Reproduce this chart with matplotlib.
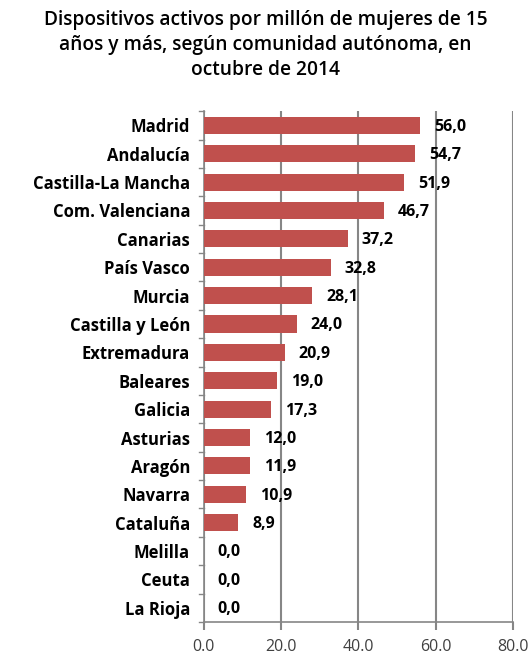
import matplotlib.pyplot as plt
import numpy as np

# data
regiones = ["Madrid", "Andalucía", "Castilla-La Mancha", "Com. Valenciana", "Canarias",
            "País Vasco", "Murcia", "Castilla y León", "Extremadura", "Baleares",
            "Galicia", "Asturias", "Aragón", "Navarra", "Cataluña", "Melilla",
            "Ceuta", "La Rioja"]
valores = [56.0, 54.7, 51.9, 46.7, 37.2, 32.8, 28.1, 24.0, 20.9, 19.0,
           17.3, 12.0, 11.9, 10.9, 8.9, 0.0, 0.0, 0.0]
xticks = [0, 20, 40, 60, 80]

grid_col = "#868686"
bar_col = "#C0504D"

fig = plt.figure(figsize=(5.31, 6.54), dpi=100)
ax = fig.add_axes([0.384, 0.049, 0.582, 0.781])

y = np.arange(len(regiones))
ax.barh(y, valores, height=0.6, color=bar_col, zorder=3)
ax.set_ylim(len(regiones) - 0.5, -0.5)
ax.set_xlim(0, 80)

for yi, v in zip(y, valores):
    ax.annotate(f"{v:.1f}".replace(".", ","), (v, yi), xytext=(10, -1),
                textcoords="offset points", ha="left", va="center",
                fontsize=11.5, fontweight="bold", family="Open Sans")

# y labels at centres, tick marks at boundaries
ax.set_yticks(y)
ax.set_yticklabels(regiones, fontsize=12, fontweight="bold", family="Open Sans")
ax.tick_params(axis="y", length=0, pad=10)
for b in np.arange(-0.5, len(regiones), 1.0):
    ax.plot([-0.017, 0], [b, b], transform=ax.get_yaxis_transform(),
            color=grid_col, lw=1, clip_on=False)

ax.set_xticks(xticks)
ax.set_xticklabels([f"{t:.1f}" for t in xticks], fontsize=11.5, family="Open Sans",
                   color="#404040")
ax.tick_params(axis="x", length=6, width=1.5, color=grid_col, pad=6)
ax.grid(axis="x", color=grid_col, lw=1.5, zorder=0)

for s in ["top", "right"]:
    ax.spines[s].set_visible(False)
for s in ["left", "bottom"]:
    ax.spines[s].set_color(grid_col)
    ax.spines[s].set_linewidth(1.2)

fig.text(0.5, 0.985, "Dispositivos activos por millón de mujeres de 15\n"
         "años y más, según comunidad autónoma, en\noctubre de 2014",
         ha="center", va="top", fontsize=13.8, family="Open Sans", fontweight="semibold",
         linespacing=1.35)

fig.savefig("out.png", dpi=100)
